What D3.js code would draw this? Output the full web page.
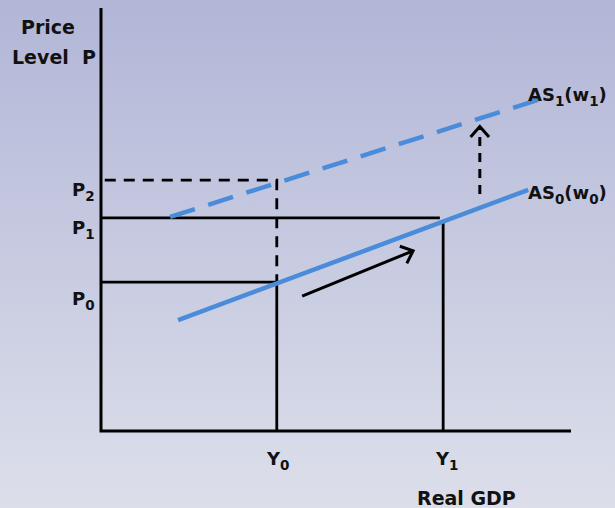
<!DOCTYPE html>
<html><head><meta charset="utf-8">
<script src="https://cdn.jsdelivr.net/npm/d3@7"></script>
<style>html,body{margin:0;padding:0;overflow:hidden}</style>
</head><body>
<script>
// Data (abstract units 0..100)
const yLabels = ["Y0", "Y1"];
const yValues = [37.4, 72.8];          // real GDP positions
const pLabels = ["P0", "P1", "P2"];
const pValues = [35.2, 50.4, 59.3];    // price levels
const as0 = [[16.4, 26.2], [90.9, 57.0]];
const as1 = [[14.7, 50.6], [93.6, 78.5]];
const p1LineEnd = 72.1;
const moveArrow = [[42.8, 31.9], [66.4, 42.6]];
const shiftArrow = [[80.6, 56.0], [80.6, 72.0]];

const W = 615, H = 508;
const x = d3.scaleLinear().domain([0, 100]).range([101, 571]);
const y = d3.scaleLinear().domain([0, 100]).range([431, 8]);

const svg = d3.select("body").append("svg").attr("width", W).attr("height", H);
const defs = svg.append("defs");
const g = defs.append("linearGradient").attr("id", "bg").attr("x1", 0).attr("y1", 0).attr("x2", 0).attr("y2", 1);
g.append("stop").attr("offset", "0%").attr("stop-color", "#b2b6d7");
g.append("stop").attr("offset", "100%").attr("stop-color", "#dcdfea");
svg.append("rect").attr("width", W).attr("height", H).attr("fill", "url(#bg)");

const font = "'DejaVu Sans', Verdana, sans-serif";
const blue = "#4a8cda";
const line = d3.line().x(d => x(d[0])).y(d => y(d[1]));

// axes
svg.append("path").attr("d", line([[0, 100], [0, 0], [100, 0]]))
  .attr("fill", "none").attr("stroke", "#000").attr("stroke-width", 3);

// guide lines
const solid = (pts, dash) => svg.append("path").attr("d", line(pts)).attr("fill", "none")
  .attr("stroke", "#000").attr("stroke-width", 2.8).attr("stroke-dasharray", dash || null);
const as0At = xv => as0[0][1] + (as0[1][1] - as0[0][1]) * (xv - as0[0][0]) / (as0[1][0] - as0[0][0]);
solid([[0, pValues[0]], [yValues[0], pValues[0]], [yValues[0], 0]]);
solid([[0, pValues[1]], [p1LineEnd, pValues[1]]]);
solid([[yValues[1], as0At(yValues[1])], [yValues[1], 0]]);
solid([[0.8, pValues[2]], [yValues[0], pValues[2]], [yValues[0], pValues[0]]], "11,8");

// AS curves
svg.append("path").attr("d", line(as0)).attr("stroke", blue).attr("stroke-width", 4.5).attr("fill", "none");
svg.append("path").attr("d", line(as1)).attr("stroke", blue).attr("stroke-width", 4.5).attr("fill", "none")
  .attr("stroke-dasharray", "26,14");

// arrows
function arrow(pts, dash) {
  const [a, b] = pts;
  const x1 = x(a[0]), y1 = y(a[1]), x2 = x(b[0]), y2 = y(b[1]);
  svg.append("line").attr("x1", x1).attr("y1", y1).attr("x2", x2).attr("y2", y2)
    .attr("stroke", "#000").attr("stroke-width", 3).attr("stroke-dasharray", dash || null);
  const ang = Math.atan2(y2 - y1, x2 - x1), L = 14, sp = 0.72;
  const h1 = [x2 - L * Math.cos(ang - sp), y2 - L * Math.sin(ang - sp)];
  const h2 = [x2 - L * Math.cos(ang + sp), y2 - L * Math.sin(ang + sp)];
  svg.append("path").attr("d", `M${h1}L${x2},${y2}L${h2}`).attr("fill", "none")
    .attr("stroke", "#000").attr("stroke-width", 3);
}
arrow(moveArrow);
arrow(shiftArrow, "9,7");

// text helpers
function label(px, py, main, sub, rest, size) {
  size = size || 18;
  const t = svg.append("text").attr("x", px).attr("y", py).attr("font-family", font)
    .attr("font-weight", "bold").attr("font-size", size).attr("fill", "#111");
  t.append("tspan").text(main);
  if (sub) t.append("tspan").attr("dy", 5).attr("font-size", size * 0.75).text(sub);
  if (rest) {
    t.append("tspan").attr("dy", -5).text(rest[0]);
    if (rest[1]) t.append("tspan").attr("dy", 5).attr("font-size", size * 0.75).text(rest[1]);
    if (rest[2]) t.append("tspan").attr("dy", -5).text(rest[2]);
  }
  return t;
}
svg.append("text").attr("x", 48).attr("y", 34).attr("text-anchor", "middle").attr("font-family", font)
  .attr("font-weight", "bold").attr("font-size", 19).attr("fill", "#111").text("Price");
svg.append("text").attr("x", 12).attr("y", 64).attr("font-family", font)
  .attr("font-weight", "bold").attr("font-size", 19).attr("fill", "#111").attr("xml:space", "preserve").text("Level  P");

const pY = [305, 234, 196];
pLabels.forEach((l, i) => label(72, pY[i], l[0], l[1]));
const yX = [267, 436];
yLabels.forEach((l, i) => label(yX[i], 465, l[0], l[1]));
label(528, 101, "AS", "1", ["(w", "1", ")"], 18);
label(528, 199, "AS", "0", ["(w", "0", ")"], 18);
svg.append("text").attr("x", 417).attr("y", 505).attr("font-family", font)
  .attr("font-weight", "bold").attr("font-size", 19).attr("fill", "#111").text("Real GDP");
</script>
</body></html>
